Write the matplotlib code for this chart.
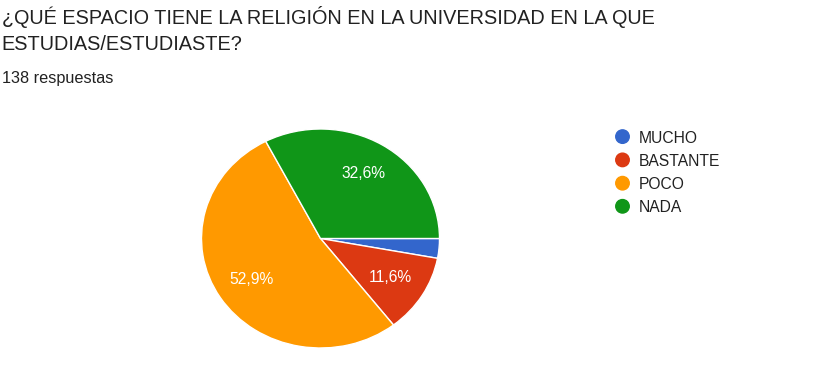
import matplotlib
matplotlib.use("Agg")
import matplotlib.pyplot as plt
from matplotlib.patches import Ellipse

categories = ["MUCHO", "BASTANTE", "POCO", "NADA"]
counts = [4, 16, 73, 45]
colors = ["#3366cc", "#dc3912", "#ff9900", "#109618"]
title_lines = ["¿QUÉ ESPACIO TIENE LA RELIGIÓN EN LA UNIVERSIDAD EN LA QUE",
               "ESTUDIAS/ESTUDIASTE?"]
subtitle = "138 respuestas"

W, H = 822, 381
plt.rcParams['font.family'] = ['Liberation Sans', 'DejaVu Sans']
fig = plt.figure(figsize=(W / 100, H / 100), dpi=100)
renderer = fig.canvas.get_renderer()

def fx(x):
    return x / W

def fy(y):
    return 1 - y / H

def fit_size(s, target_px, guess=12.0):
    t = fig.text(0, 0, s, fontsize=guess)
    w = t.get_window_extent(renderer=renderer).width
    t.remove()
    return guess * target_px / w

# Title
tsize = fit_size(title_lines[0], 654)
fig.text(fx(1.5), fy(23.5), title_lines[0], fontsize=tsize, color="#212121", va="baseline", ha="left")
fig.text(fx(1.5), fy(50.0), title_lines[1], fontsize=tsize, color="#212121", va="baseline", ha="left")
ssize = fit_size(subtitle, 111)
fig.text(fx(1.5), fy(83.5), subtitle, fontsize=ssize, color="#212121", va="baseline", ha="left")

# Pie (slightly elliptical as in reference)
left, right, top, bottom = 201.5, 439.5, 129.0, 348.0
ax = fig.add_axes([fx(left), fy(bottom), (right - left) / W, (bottom - top) / H])

def fmt(p):
    return ("%.1f%%" % p).replace(".", ",") if p >= 5 else ""

psize = fit_size("52,9%", 44.5)
wedges, texts, autotexts = ax.pie(
    counts, colors=colors, startangle=0, counterclock=False,
    autopct=fmt, pctdistance=0.69,
    wedgeprops=dict(edgecolor="white", linewidth=1.0),
    textprops=dict(color="white", fontsize=psize))
ax.set_aspect("auto")
ax.set_xlim(-1, 1)
ax.set_ylim(-1, 1)
ax.axis("off")

# Legend
lax = fig.add_axes([0, 0, 1, 1], facecolor="none")
lax.set_xlim(0, W)
lax.set_ylim(H, 0)
lax.axis("off")
lsize = fit_size("BASTANTE", 81.4)
rows = [136.6, 159.9, 183.2, 206.3]
for cat, col, yy in zip(categories, colors, rows):
    lax.add_patch(Ellipse((622.5, yy), 13.5, 13.5, color=col))
    lax.text(639, yy, cat, fontsize=lsize, color="#212121", va="center_baseline", ha="left")

fig.savefig("out.png", dpi=100, facecolor="white")
